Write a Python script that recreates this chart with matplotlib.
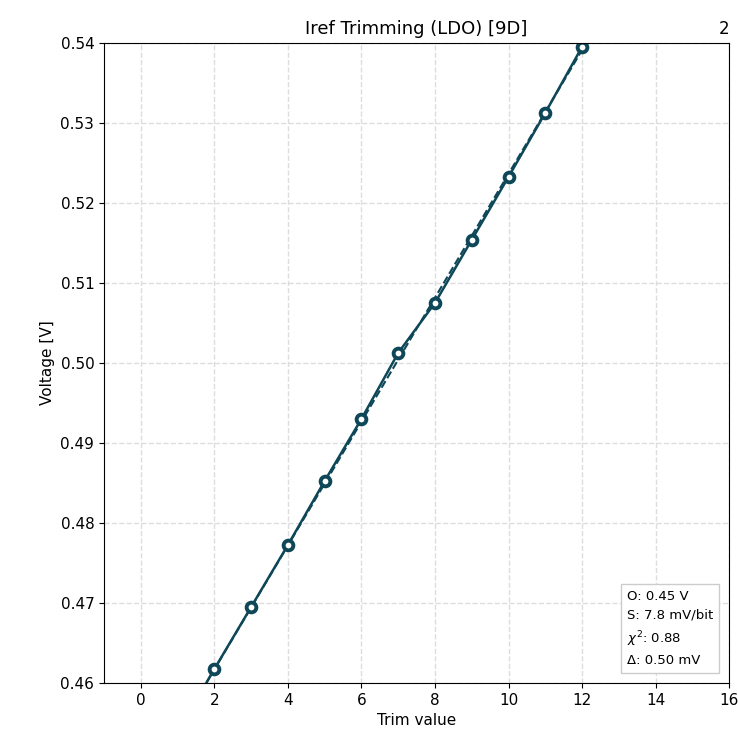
import numpy as np
import matplotlib.pyplot as plt

# trim code vs measured reference voltage
trim = np.array([0, 1, 2, 3, 4, 5, 6, 7, 8, 9, 10, 11, 12])
volts = np.array([0.4460, 0.4538, 0.46175, 0.4695, 0.47725, 0.48525, 0.4930,
                  0.50125, 0.5075, 0.51538, 0.52325, 0.53125, 0.5395])

info = ["O: 0.45 V", "S: 7.8 mV/bit", r"$\chi^2$: 0.88", "Δ: 0.50 mV"]

col = "#0e4858"

fig = plt.figure(figsize=(7.38, 7.38), dpi=100)
ax = fig.add_axes([0.141, 0.0745, 0.847, 0.8675])

# linear fit
p = np.polyfit(trim, volts, 1)
xf = np.linspace(-1, 16, 100)
ax.plot(xf, np.polyval(p, xf), color=col, ls="--", lw=1.5)

ax.plot(trim, volts, color=col, lw=1.8, marker="o", ms=7, mfc="white",
        mec=col, mew=2.8)

ax.set_xlim(-1, 16)
ax.set_ylim(0.46, 0.54)
ax.set_xticks(np.arange(0, 17, 2))
ax.set_yticks(np.arange(0.46, 0.5401, 0.01))
ax.set_yticklabels([f"{v:.2f}" for v in np.arange(0.46, 0.5401, 0.01)])
ax.grid(True, ls="--", color="#dddddd", lw=1)
ax.tick_params(labelsize=11)
ax.set_xlabel("Trim value", fontsize=11)
ax.set_ylabel("Voltage [V]", fontsize=11)
ax.set_title("Iref Trimming (LDO) [9D]", fontsize=13)
ax.set_title("2", loc="right", fontsize=12)

ax.text(0.975, 0.025, "\n".join(info), transform=ax.transAxes, fontsize=9.5,
        ha="right", va="bottom", multialignment="left", linespacing=1.55,
        bbox=dict(boxstyle="square,pad=0.45", fc="white", ec="#cccccc"))

fig.savefig("out.png", dpi=100)
